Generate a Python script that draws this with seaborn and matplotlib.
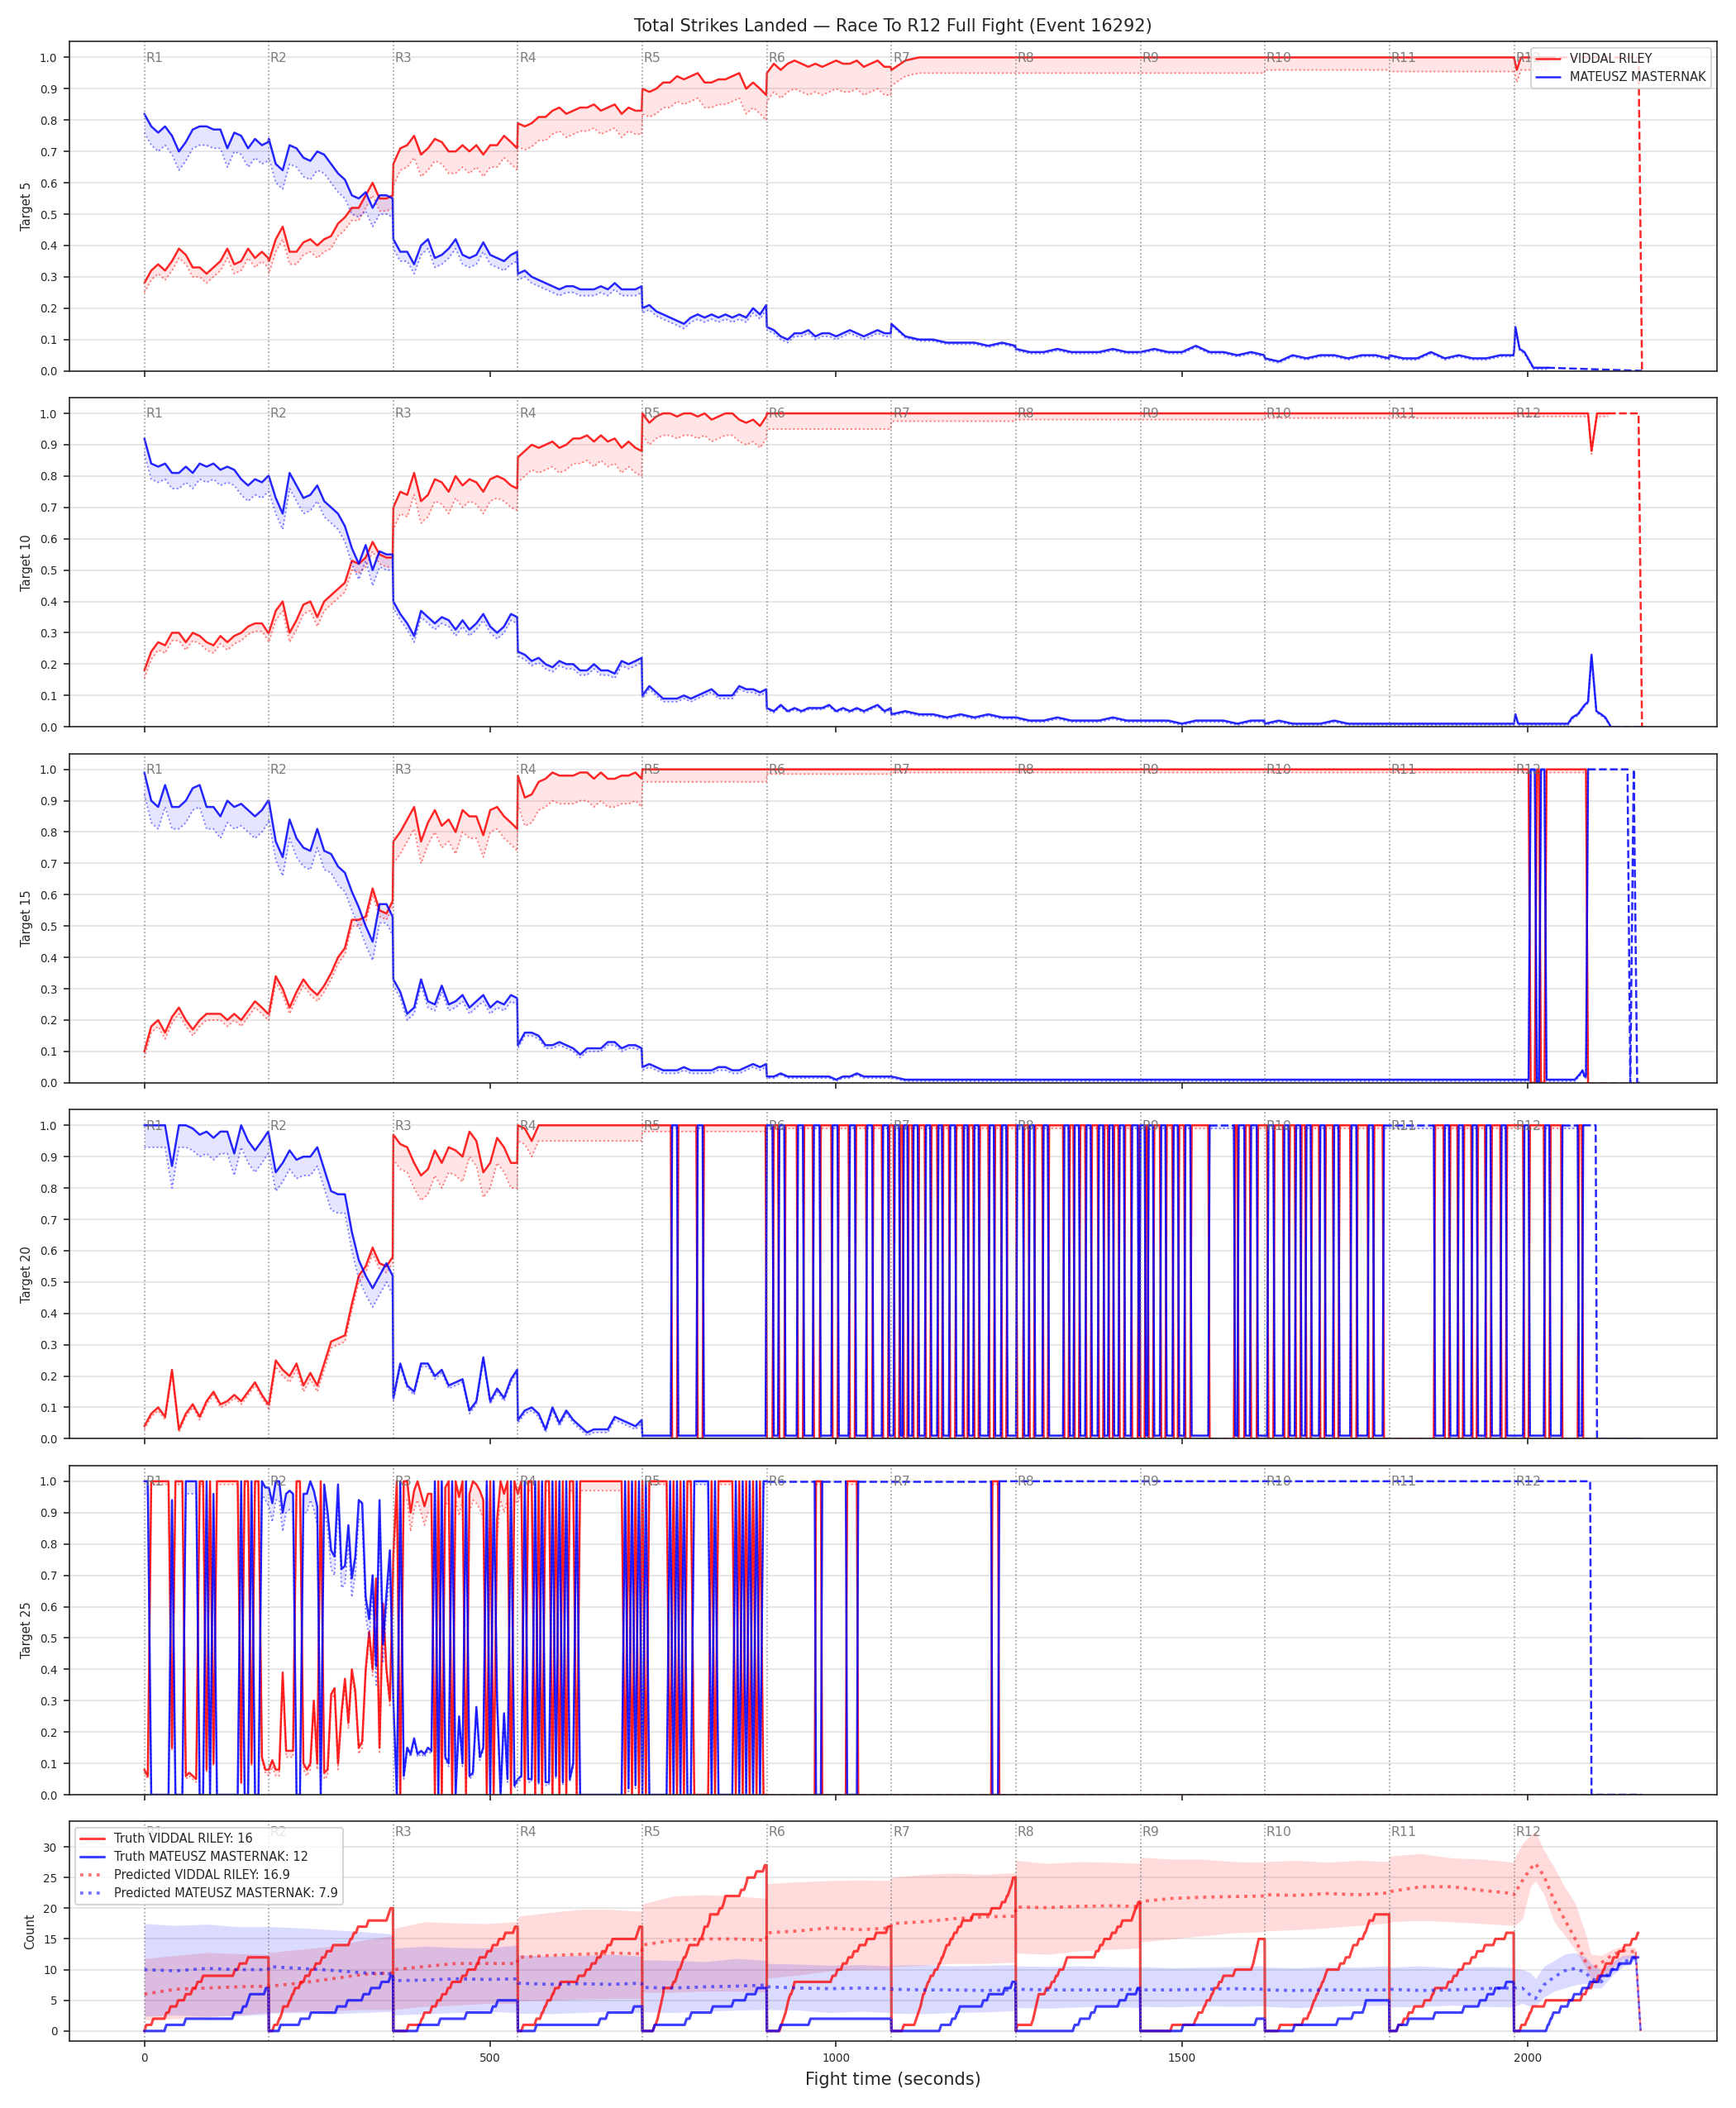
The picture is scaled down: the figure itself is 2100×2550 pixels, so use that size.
import numpy as np
import matplotlib
matplotlib.use("Agg")
import matplotlib.pyplot as plt
import seaborn as sns
from matplotlib.lines import Line2D

sns.set_style("ticks")
plt.rcParams["font.family"] = ["DejaVu Sans"]

RED = "#ff0000"
BLUE = "#0000ff"
FIGHTER_RED = "VIDDAL RILEY"
FIGHTER_BLUE = "MATEUSZ MASTERNAK"
TITLE = "Total Strikes Landed \u2014 Race To R12 Full Fight (Event 16292)"
ROUND_LEN = 180
N_ROUNDS = 12
FIGHT_END = 2165

# sample offsets inside a round (seconds)
EARLY_OFFSETS = [0, 10, 20, 30, 40, 50, 60, 70, 80, 90, 100, 110, 120, 130, 140, 150, 160, 170, 179]
LATE_OFFSETS = [0, 20, 40, 60, 80, 100, 120, 140, 160, 179]

# ---------------- Target 5 (percent) ----------------
T5_RED = [
    28, 32, 34, 32, 35, 39, 37, 33, 33, 31, 33, 35, 39, 34, 35, 39, 36, 38, 36,
    35, 42, 46, 38, 38, 41, 42, 40, 42, 43, 47, 49, 52, 52, 56, 60, 55, 55, 56,
    66, 71, 72, 75, 69, 71, 74, 73, 70, 70, 72, 70, 72, 69, 72, 72, 75, 73, 71,
    79, 78, 79, 81, 81, 83, 84, 82, 83, 84, 84, 85, 83, 84, 85, 82, 84, 83, 83,
    90, 89, 90, 92, 92, 94, 93, 94, 95, 92, 92, 93, 93, 94, 95, 90, 92, 90, 88,
    95, 98, 96, 98, 99, 98, 97, 98, 97, 98, 99, 98, 98, 99, 97, 98, 99, 97, 97,
    96, 99, 100, 100, 100, 100, 100, 100, 100, 100,
    100, 100, 100, 100, 100, 100, 100, 100, 100, 100,
    100, 100, 100, 100, 100, 100, 100, 100, 100, 100,
    100, 100, 100, 100, 100, 100, 100, 100, 100, 100,
    100, 100, 100, 100, 100, 100, 100, 100, 100, 100,
]
T5_BLUE = [
    82, 78, 76, 78, 75, 70, 73, 77, 78, 78, 77, 77, 71, 76, 75, 71, 74, 72, 73,
    74, 66, 64, 72, 71, 68, 67, 70, 69, 66, 63, 61, 56, 55, 57, 52, 56, 56, 55,
    42, 38, 38, 34, 40, 42, 36, 37, 39, 42, 37, 36, 37, 41, 37, 36, 35, 37, 38,
    31, 32, 30, 29, 28, 27, 26, 27, 27, 26, 26, 26, 27, 26, 28, 26, 26, 26, 27,
    20, 21, 19, 18, 17, 16, 15, 17, 18, 17, 18, 17, 18, 17, 18, 17, 20, 18, 21,
    14, 13, 11, 10, 12, 12, 13, 11, 12, 12, 11, 12, 13, 12, 11, 12, 13, 12, 12,
    15, 11, 10, 10, 9, 9, 9, 8, 9, 8,
    7, 6, 6, 7, 6, 6, 6, 7, 6, 6,
    6, 7, 6, 6, 8, 6, 6, 5, 6, 5,
    4, 3, 5, 4, 5, 5, 4, 5, 5, 4,
    5, 4, 4, 6, 4, 5, 4, 4, 5, 5,
]
T5_RED_END_T = [1980, 1984, 1990, 2000, 2030, 2160, 2165]
T5_RED_END = [100, 96, 100, 100, 100, 100, 0]
T5_BLUE_END_T = [1980, 1982, 1988, 1995, 2008, 2028, 2165]
T5_BLUE_END = [6, 14, 7, 6, 1, 1, 0]
T5_RED_DASH = [(2030, 2170)]
T5_BLUE_DASH = [(2028, 2170)]
T5_RED_GAP = [3, 4, 7, 7.5, 8, 9, 5, 5, 5, 4, 4.5, 4]
T5_BLUE_GAP = [6, 6, 3, 2, 1.5, 1, 0.5, 0.5, 0.5, 0.5, 0.5, 0.5]

# ---------------- Target 10 ----------------
T10_RED = [
    18, 24, 27, 26, 30, 30, 27, 30, 29, 27, 26, 29, 27, 29, 30, 32, 33, 33, 30,
    30, 37, 40, 30, 34, 39, 40, 35, 40, 42, 44, 46, 53, 52, 54, 59, 55, 54, 54,
    70, 75, 74, 81, 72, 74, 79, 78, 75, 80, 77, 79, 78, 75, 79, 80, 79, 77, 76,
    86, 88, 90, 89, 90, 91, 89, 90, 92, 92, 93, 91, 93, 91, 92, 89, 91, 89, 88,
    100, 97, 99, 100, 100, 99, 100, 100, 99, 100, 98, 99, 100, 100, 98, 97, 98, 96, 99,
    100, 100, 100, 100, 100, 100, 100, 100, 100, 100, 100, 100, 100, 100, 100, 100, 100, 100, 100,
    100, 100, 100, 100, 100, 100, 100, 100, 100, 100,
    100, 100, 100, 100, 100, 100, 100, 100, 100, 100,
    100, 100, 100, 100, 100, 100, 100, 100, 100, 100,
    100, 100, 100, 100, 100, 100, 100, 100, 100, 100,
    100, 100, 100, 100, 100, 100, 100, 100, 100, 100,
]
T10_BLUE = [
    92, 84, 83, 84, 81, 81, 83, 81, 84, 83, 84, 82, 83, 82, 79, 77, 79, 78, 80,
    80, 73, 68, 81, 77, 73, 74, 77, 72, 70, 68, 64, 57, 52, 58, 50, 56, 55, 55,
    40, 36, 33, 29, 37, 35, 33, 35, 34, 31, 34, 31, 33, 36, 32, 30, 32, 36, 35,
    24, 23, 21, 22, 20, 19, 21, 20, 20, 18, 18, 20, 18, 18, 17, 21, 20, 21, 22,
    10, 13, 11, 9, 9, 9, 10, 9, 10, 11, 12, 10, 10, 10, 13, 12, 12, 11, 12,
    6, 5, 7, 5, 6, 5, 6, 6, 6, 7, 5, 6, 5, 6, 5, 6, 7, 5, 6,
    4, 5, 4, 4, 3, 4, 3, 4, 3, 3,
    3, 2, 2, 3, 2, 2, 2, 3, 2, 2,
    2, 2, 2, 1, 2, 2, 2, 1, 2, 2,
    1, 2, 1, 1, 1, 2, 1, 1, 1, 1,
    1, 1, 1, 1, 1, 1, 1, 1, 1, 1,
]
T10_RED_END_T = [1980, 2087, 2092, 2100, 2116, 2160, 2165]
T10_RED_END = [100, 100, 88, 100, 100, 100, 0]
T10_BLUE_END_T = [1980, 1982, 1986, 2058, 2064, 2072, 2082, 2087, 2092, 2099, 2106, 2112, 2120, 2165]
T10_BLUE_END = [1, 4, 1, 1, 3, 4, 7, 8, 23, 5, 4, 3, 0, 0]
T10_RED_DASH = [(2116, 2170)]
T10_BLUE_DASH = [(2120, 2170)]
T10_RED_GAP = [2.5, 3, 7, 8, 7, 5, 2.5, 2, 2, 1.5, 1.5, 1]
T10_BLUE_GAP = [5, 5, 2, 1.5, 1, 0.5, 0.5, 0.5, 0.5, 0.5, 0.5, 0.5]

# ---------------- Target 15 ----------------
T15_RED = [
    10, 18, 20, 16, 21, 24, 20, 17, 20, 22, 22, 22, 20, 22, 20, 23, 26, 24, 22,
    22, 34, 30, 24, 29, 33, 30, 28, 31, 35, 40, 43, 52, 52, 53, 62, 55, 54, 58,
    77, 80, 84, 88, 77, 83, 87, 82, 84, 80, 87, 85, 85, 79, 87, 88, 85, 83, 81,
    98, 91, 92, 96, 97, 99, 98, 98, 98, 99, 99, 97, 99, 97, 97, 98, 98, 99, 97,
    100, 100, 100, 100, 100, 100, 100, 100, 100, 100, 100, 100, 100, 100, 100, 100, 100, 100, 100,
    100, 100, 100, 100, 100, 100, 100, 100, 100, 100, 100, 100, 100, 100, 100, 100, 100, 100, 100,
    100, 100, 100, 100, 100, 100, 100, 100, 100, 100,
    100, 100, 100, 100, 100, 100, 100, 100, 100, 100,
    100, 100, 100, 100, 100, 100, 100, 100, 100, 100,
    100, 100, 100, 100, 100, 100, 100, 100, 100, 100,
    100, 100, 100, 100, 100, 100, 100, 100, 100, 100,
]
T15_BLUE = [
    99, 90, 88, 95, 88, 88, 90, 94, 95, 88, 88, 85, 90, 88, 89, 87, 85, 87, 90,
    90, 77, 72, 84, 78, 75, 74, 81, 74, 73, 69, 67, 61, 56, 50, 45, 57, 57, 53,
    33, 29, 22, 24, 33, 26, 25, 31, 25, 26, 28, 24, 26, 28, 24, 26, 25, 28, 27,
    12, 16, 16, 15, 12, 12, 13, 12, 11, 9, 11, 11, 11, 13, 13, 11, 12, 12, 11,
    5, 6, 5, 4, 4, 4, 5, 4, 4, 4, 4, 5, 5, 4, 4, 5, 6, 5, 6,
    2, 2, 3, 2, 2, 2, 2, 2, 2, 2, 1, 2, 2, 3, 2, 2, 2, 2, 2,
    2, 1, 1, 1, 1, 1, 1, 1, 1, 1,
    1, 1, 1, 1, 1, 1, 1, 1, 1, 1,
    1, 1, 1, 1, 1, 1, 1, 1, 1, 1,
    1, 1, 1, 1, 1, 1, 1, 1, 1, 1,
    1, 1, 1, 1, 1, 1, 1, 1, 1, 1,
]
T15_RED_END_T = [1980, 2001, 2004, 2010, 2013, 2016, 2019, 2024, 2027, 2084, 2087, 2165]
T15_RED_END = [100, 100, 0, 0, 100, 100, 0, 0, 100, 100, 0, 0]
T15_BLUE_END_T = [1980, 2001, 2004, 2010, 2013, 2016, 2019, 2024, 2027, 2068, 2076, 2079,
                  2082, 2084, 2087, 2144, 2148, 2153, 2158, 2165]
T15_BLUE_END = [1, 1, 100, 100, 0, 0, 100, 100, 1, 1, 3, 4, 2, 2, 100, 100, 0, 100, 0, 0]
T15_RED_DASH = [(2087, 2170)]
T15_BLUE_DASH = [(2087, 2170)]
T15_RED_GAP = [2, 2, 7, 9, 4, 1.5, 1, 1, 1, 1, 1, 1]
T15_BLUE_GAP = [7, 6, 2, 1, 1, 0.5, 0.5, 0.5, 0.5, 0.5, 0.5, 0.5]

# ---------------- Target 20 ----------------
T20_RED = [
    4, 8, 10, 7, 22, 3, 8, 11, 7, 12, 15, 11, 12, 14, 12, 15, 18, 14, 11,
    11, 25, 22, 20, 24, 17, 21, 17, 24, 31, 32, 33, 43, 52, 55, 61, 56, 55, 58,
    97, 94, 93, 88, 84, 86, 92, 88, 93, 92, 90, 98, 95, 85, 88, 96, 93, 88, 88,
    100, 99, 95, 100, 100, 100, 100, 100, 100, 100, 100, 100, 100, 100, 100, 100, 100, 100, 100,
]
T20_BLUE = [
    100, 100, 100, 100, 87, 100, 100, 99, 97, 98, 96, 98, 98, 91, 100, 95, 92, 95, 98,
    97, 85, 88, 92, 89, 90, 90, 93, 86, 79, 78, 78, 66, 57, 52, 48, 52, 56, 52,
    13, 24, 17, 15, 24, 24, 20, 22, 17, 18, 19, 9, 12, 26, 12, 16, 13, 19, 22,
    6, 9, 10, 8, 3, 10, 5, 9, 6, 4, 2, 3, 3, 3, 7, 6, 5, 4, 6,
]
# from R5 on the model flips between the fighters: spans where Masternak is at 1
T20_BLUE_HIGH = [
    (763, 770), (800, 807),
    (900, 908), (918, 925), (945, 952), (968, 976), (995, 1002), (1020, 1027), (1045, 1052), (1068, 1075),
    (1085, 1091), (1098, 1103), (1112, 1118), (1130, 1136), (1148, 1153), (1165, 1172), (1185, 1190),
    (1200, 1206), (1222, 1228), (1240, 1246),
    (1262, 1270), (1280, 1286), (1300, 1306), (1330, 1336), (1345, 1351), (1362, 1368), (1380, 1386),
    (1395, 1400), (1410, 1416), (1428, 1436),
    (1440, 1446), (1452, 1458), (1470, 1476), (1488, 1494), (1505, 1512), (1540, 1575), (1582, 1590),
    (1600, 1608),
    (1625, 1632), (1648, 1654), (1665, 1671), (1680, 1686), (1700, 1706), (1720, 1726), (1745, 1752),
    (1770, 1776), (1792, 1864),
    (1880, 1886), (1900, 1906), (1920, 1926), (1940, 1946), (1962, 1968),
    (1995, 2001), (2025, 2031), (2050, 2072),
]
T20_FLIP_END = 2078
T20_BLUE_TAIL_T = [2080, 2098, 2100, 2165]
T20_BLUE_TAIL = [100, 100, 0, 0]
T20_RED_TAIL_T = [2080, 2165]
T20_RED_TAIL = [0, 0]
T20_DASH = [(1540, 1575), (1792, 1864), (2050, 2072), (2080, 2170)]
T20_RED_GAP = [1, 2, 8, 5, 2, 1, 1, 1, 1, 1, 1, 1]
T20_BLUE_GAP = [7, 6, 1, 1, 1, 1, 1, 1, 1, 1, 1, 1]

# ---------------- Target 25 (5 s samples, R1-R5) ----------------
T25_RED = [
    8, 6, 100, 100, 100, 100, 100, 100, 15, 100, 100, 100, 6, 7, 6, 5, 100, 100,
    8, 100, 10, 100, 100, 100, 100, 100, 100, 100, 4, 100, 100, 10, 100, 100, 12, 8,
    8, 11, 8, 8, 39, 14, 14, 14, 100, 100, 10, 8, 10, 30, 10, 100, 7, 8,
    32, 34, 10, 26, 37, 23, 40, 33, 15, 17, 40, 52, 40, 69, 15, 61, 40, 30,
    77, 100, 0, 100, 100, 90, 97, 100, 96, 92, 96, 96, 0, 100, 0, 98, 100, 0,
    100, 95, 100, 0, 96, 100, 99, 97, 94, 0, 100, 0, 88, 100, 96, 100, 0, 100,
    96, 100, 0, 100, 100, 0, 100, 0, 100, 100, 0, 100, 0, 100, 0, 100, 100, 0,
    100, 100, 100, 100, 100, 100, 100, 100, 100, 100, 100, 100, 100, 0, 100, 0, 100, 0,
    100, 0, 100, 100, 100, 100, 100, 100, 0, 100, 0, 100, 0, 100, 100, 0, 0, 0,
    0, 0, 100, 0, 100, 100, 100, 100, 100, 0, 100, 0, 100, 0, 100, 0, 100, 0,
]
T25_BLUE = [
    100, 100, 0, 0, 0, 0, 0, 0, 94, 0, 0, 0, 100, 100, 100, 100, 0, 0,
    100, 0, 96, 0, 0, 0, 0, 0, 0, 0, 100, 0, 0, 100, 0, 0, 100, 98,
    98, 93, 100, 100, 90, 96, 97, 96, 0, 0, 96, 96, 100, 97, 92, 0, 99, 90,
    78, 76, 99, 72, 73, 86, 69, 76, 94, 93, 63, 56, 70, 41, 94, 48, 64, 78,
    30, 0, 100, 6, 15, 13, 18, 13, 14, 13, 15, 14, 100, 0, 100, 12, 10, 100,
    0, 25, 10, 100, 6, 7, 28, 12, 15, 100, 0, 100, 30, 0, 26, 5, 100, 3,
    5, 6, 100, 5, 5, 100, 4, 100, 4, 4, 100, 6, 100, 4, 100, 5, 10, 100,
    0, 0, 0, 0, 0, 0, 0, 0, 0, 0, 0, 0, 0, 100, 2, 100, 3, 100,
    0, 100, 0, 0, 0, 0, 0, 0, 100, 0, 100, 0, 100, 0, 0, 100, 100, 100,
    100, 100, 0, 100, 0, 0, 0, 0, 0, 100, 0, 100, 0, 100, 0, 100, 0, 100,
]
T25_STEP = 5
T25_LATE_START = 900
T25_RED_HIGH = [(971, 978), (1016, 1030), (1226, 1234)]
T25_BLUE_FLIP_END = 2090
T25_BLUE_TAIL_T = [2092, 2165]
T25_BLUE_TAIL = [0, 0]
T25_DASH = [(900, 970), (979, 1015), (1031, 1225), (1235, 2170)]
T25_RED_GAP = [1, 2, 6, 3, 1, 1, 1, 1, 1, 1, 1, 1]
T25_BLUE_GAP = [4, 6, 1, 1, 1, 1, 1, 1, 1, 1, 1, 1]

# ---------------- Count panel ----------------
RED_STRIKES = [
    [3, 13, 32, 38, 49, 60, 70, 77, 85, 131, 138, 150],
    [8, 15, 19, 21, 30, 34, 38, 46, 53, 61, 68, 77, 84, 93, 118, 123, 129, 144, 173, 176],
    [22, 41, 45, 56, 64, 71, 79, 85, 100, 108, 121, 125, 136, 144, 153, 162, 176],
    [8, 27, 35, 39, 43, 50, 54, 62, 88, 99, 107, 115, 122, 130, 137, 173, 176],
    [18, 22, 24, 26, 28, 30, 31, 45, 50, 52, 57, 60, 65, 68, 83, 88, 90, 97, 98, 112, 118, 120,
     143, 150, 152, 165, 177],
    [21, 24, 27, 29, 31, 34, 38, 40, 95, 102, 110, 118, 126, 134, 145, 158, 175],
    [18, 36, 39, 42, 44, 46, 50, 53, 57, 63, 69, 73, 77, 80, 86, 91, 97, 103, 118, 145, 160, 167,
     171, 174, 176],
    [2, 25, 27, 29, 31, 33, 44, 52, 58, 63, 71, 74, 116, 122, 128, 139, 147, 154, 170, 173, 177],
    [46, 80, 84, 92, 96, 103, 107, 114, 120, 137, 163, 165, 167, 169, 171],
    [22, 56, 64, 68, 71, 75, 79, 83, 87, 90, 109, 117, 125, 128, 136, 144, 148, 151, 159],
    [13, 21, 28, 36, 51, 62, 66, 85, 93, 100, 108, 119, 127, 138, 153, 169],
    [11, 19, 23, 27, 46, 99, 106, 114, 122, 129, 133, 144, 152, 160, 171, 179],
]
BLUE_STRIKES = [
    [32, 60, 130, 143, 150, 153, 176],
    [17, 46, 61, 99, 114, 137, 148, 163, 176],
    [37, 68, 106, 144, 151],
    [27, 119, 130, 168],
    [18, 64, 71, 102, 132, 151, 166],
    [20, 63],
    [72, 88, 95, 99, 133, 141, 164, 175],
    [85, 93, 109, 116, 150, 161, 176],
    [62, 168],
    [43, 106, 128, 144, 146],
    [13, 28, 66, 108, 131, 142, 153, 169],
    [49, 53, 57, 68, 80, 87, 99, 110, 125, 141, 152, 171],
]
PRED_OFFSETS = [0, 45, 90, 135, 179]
PRED_R12_T = [1980, 1992, 2004, 2011, 2023, 2038, 2053, 2068, 2084, 2091, 2106, 2122, 2137, 2156]
PRED_END_T = 2163
RED_MEAN = [
    6.0, 6.8, 7.0, 7.2, 7.3,
    7.3, 7.8, 8.5, 9.2, 9.5,
    10.0, 10.5, 11.0, 11.0, 11.0,
    12.0, 12.3, 12.5, 12.7, 12.6,
    14.0, 14.8, 15.0, 15.0, 14.8,
    16.0, 16.3, 16.8, 16.5, 16.8,
    17.5, 17.8, 18.3, 18.6, 18.7,
    20.2, 20.1, 20.3, 20.4, 20.3,
    21.1, 21.6, 21.8, 21.9, 22.0,
    22.2, 22.1, 22.4, 22.2, 22.5,
    22.7, 23.5, 23.5, 22.9, 22.4,
    22.2, 24.5, 26.5, 27.3, 25.3, 21.3, 18.2, 15.1, 11.1, 10.0, 11.1, 12.4, 13.1, 12.9,
]
RED_UP = [
    11.8, 12.3, 12.8, 12.6, 12.5,
    12.8, 13.3, 13.8, 14.8, 15.5,
    16.7, 17.8, 17.6, 17.5, 17.8,
    18.7, 19.3, 19.8, 19.8, 19.5,
    20.7, 22.0, 22.2, 22.0, 21.6,
    24.0, 24.3, 24.5, 24.6, 24.5,
    25.0, 25.5, 25.7, 25.5, 25.8,
    27.8, 27.3, 27.6, 27.5, 27.3,
    28.3, 28.0, 28.0, 27.6, 27.5,
    27.6, 27.8, 27.5, 27.8, 27.6,
    28.5, 28.9, 28.2, 28.0, 27.5,
    28.0, 30.5, 32.0, 32.5, 29.5, 26.7, 23.5, 20.9, 15.6, 12.5, 12.3, 13.3, 13.8, 13.6,
]
RED_LOW = [
    1.8, 2.0, 2.3, 2.6, 3.0,
    3.0, 3.2, 3.3, 3.5, 3.5,
    3.5, 4.0, 4.2, 4.5, 4.5,
    4.9, 5.0, 5.2, 5.3, 5.3,
    6.3, 6.3, 6.5, 6.5, 6.3,
    8.6, 9.1, 9.8, 10.0, 10.0,
    10.5, 10.7, 11.0, 11.0, 11.2,
    12.7, 12.5, 13.0, 13.3, 13.5,
    14.5, 15.0, 15.5, 16.0, 16.2,
    16.3, 16.5, 16.8, 17.2, 17.6,
    17.8, 18.0, 17.8, 17.5, 17.2,
    17.1, 18.2, 23.6, 24.4, 22.3, 17.8, 15.6, 13.3, 10.2, 8.4, 8.4, 10.2, 11.8, 12.0,
]
BLUE_MEAN = [
    10.0, 9.8, 10.2, 10.0, 10.0,
    10.5, 10.2, 9.9, 9.5, 9.3,
    8.2, 8.3, 8.5, 8.4, 8.5,
    7.8, 7.6, 7.7, 7.6, 7.8,
    7.1, 7.0, 7.2, 7.3, 7.5,
    7.2, 7.0, 6.9, 7.0, 6.9,
    6.8, 6.7, 6.7, 6.6, 6.7,
    6.8, 6.7, 6.7, 6.7, 6.8,
    6.7, 6.7, 6.8, 6.9, 6.8,
    6.7, 6.6, 6.7, 6.7, 6.7,
    6.8, 6.6, 6.7, 6.9, 7.0,
    7.0, 7.0, 5.8, 5.3, 7.5, 8.8, 9.8, 10.2, 9.5, 8.5, 8.0, 10.0, 11.2, 12.0,
]
BLUE_UP = [
    17.5, 17.2, 17.4, 17.0, 17.0,
    17.0, 16.8, 16.5, 16.2, 15.8,
    13.5, 13.8, 13.6, 13.5, 14.0,
    12.4, 12.2, 12.3, 12.5, 12.2,
    11.6, 11.5, 11.3, 11.8, 11.5,
    11.0, 10.9, 10.7, 10.8, 10.6,
    10.7, 10.8, 10.6, 10.7, 10.8,
    10.6, 10.5, 10.6, 10.5, 10.4,
    10.5, 10.3, 10.4, 10.5, 10.6,
    10.4, 10.3, 10.5, 10.4, 10.6,
    10.4, 10.6, 10.3, 10.5, 10.4,
    10.2, 10.0, 9.5, 8.5, 10.5, 11.5, 12.5, 12.8, 12.0, 11.0, 10.0, 11.3, 12.3, 12.5,
]
BLUE_LOW = [
    2.4, 2.6, 2.4, 2.5, 2.7,
    2.9, 3.0, 2.8, 3.0, 3.2,
    2.6, 2.8, 3.0, 3.2, 3.0,
    2.9, 2.8, 3.0, 3.2, 3.0,
    3.1, 3.0, 3.2, 3.4, 3.5,
    3.5, 3.4, 3.0, 3.2, 3.0,
    2.9, 2.8, 3.0, 3.1, 3.3,
    3.8, 3.7, 3.9, 4.0, 3.8,
    4.0, 3.9, 4.1, 4.0, 4.1,
    4.0, 3.8, 4.0, 4.1, 4.2,
    3.9, 4.0, 4.2, 4.0, 3.9,
    4.0, 4.5, 4.0, 4.0, 5.5, 6.5, 7.0, 7.5, 7.8, 7.0, 7.0, 9.0, 10.5, 11.5,
]
PRED_RED_FINAL = 16.9
PRED_BLUE_FINAL = 7.9


def round_grid(n_early, n_late):
    ts = []
    for r in range(n_early + n_late):
        offs = EARLY_OFFSETS if r < n_early else LATE_OFFSETS
        ts += [r * ROUND_LEN + o for o in offs]
    return ts


def flip_series(start, end, spans, base, flipped):
    # step between two levels, 2 s ramps like the 5 s sampling of the source
    t, y = [start], [base]
    for a, b in spans:
        t += [a - 2, a, b, b + 2]
        y += [base, flipped, flipped, base]
    t.append(end)
    y.append(base)
    return t, y


def in_spans(x, spans):
    return any(a < x < b for a, b in spans)


def plot_track(ax, t, y, spans, color, lw=1.2, alpha=0.85):
    t = np.asarray(t, float)
    y = np.asarray(y, float)
    mids = (t[:-1] + t[1:]) / 2
    dashed = np.array([in_spans(m, spans) for m in mids])
    start = 0
    for i in range(1, len(mids) + 1):
        if i == len(mids) or dashed[i] != dashed[start]:
            ax.plot(t[start:i + 1], y[start:i + 1], color=color, lw=lw, alpha=alpha,
                    ls="--" if dashed[start] else "-")
            start = i


def lower_bound(t, y, gaps, spans):
    out = []
    for ti, yi in zip(t, y):
        if in_spans(ti, spans):
            out.append(np.nan)
        else:
            g = gaps[min(int(ti // ROUND_LEN), N_ROUNDS - 1)] / 100
            out.append(max(yi - g, 0))
    return np.array(out)


def truth_track(strikes):
    t, y = [], []
    for r, hits in enumerate(strikes):
        start = r * ROUND_LEN
        t.append(start)
        y.append(0)
        last, c = start, 0
        for s in hits:
            rise = max(last, start + s - 3)
            t += [rise, start + s]
            y += [c, c + 1]
            c += 1
            last = start + s
        t.append(start + 179.5)
        y.append(c)
    return t, y


# ---------------- assemble tracks ----------------
GRID_T = round_grid(6, 5)
T20_GRID_T = round_grid(4, 0)
T25_GRID_T = list(np.arange(0, T25_LATE_START, T25_STEP))

t20_blue_t, t20_blue_y = flip_series(720, T20_FLIP_END, T20_BLUE_HIGH, 1, 100)
t20_red_t, t20_red_y = flip_series(720, T20_FLIP_END, T20_BLUE_HIGH, 100, 0)
t25_red_t, t25_red_y = flip_series(T25_LATE_START, FIGHT_END, T25_RED_HIGH, 0, 100)
t25_blue_t, t25_blue_y = flip_series(T25_LATE_START, T25_BLUE_FLIP_END, T25_RED_HIGH, 100, 0)

panels = [
    ("Target 5",
     (GRID_T + T5_RED_END_T, T5_RED + T5_RED_END, T5_RED_DASH, T5_RED_GAP),
     (GRID_T + T5_BLUE_END_T, T5_BLUE + T5_BLUE_END, T5_BLUE_DASH, T5_BLUE_GAP)),
    ("Target 10",
     (GRID_T + T10_RED_END_T, T10_RED + T10_RED_END, T10_RED_DASH, T10_RED_GAP),
     (GRID_T + T10_BLUE_END_T, T10_BLUE + T10_BLUE_END, T10_BLUE_DASH, T10_BLUE_GAP)),
    ("Target 15",
     (GRID_T + T15_RED_END_T, T15_RED + T15_RED_END, T15_RED_DASH, T15_RED_GAP),
     (GRID_T + T15_BLUE_END_T, T15_BLUE + T15_BLUE_END, T15_BLUE_DASH, T15_BLUE_GAP)),
    ("Target 20",
     (T20_GRID_T + t20_red_t + T20_RED_TAIL_T, T20_RED + t20_red_y + T20_RED_TAIL, T20_DASH, T20_RED_GAP),
     (T20_GRID_T + t20_blue_t + T20_BLUE_TAIL_T, T20_BLUE + t20_blue_y + T20_BLUE_TAIL, T20_DASH,
      T20_BLUE_GAP)),
    ("Target 25",
     (T25_GRID_T + t25_red_t, T25_RED + t25_red_y, T25_DASH, T25_RED_GAP),
     (T25_GRID_T + t25_blue_t + T25_BLUE_TAIL_T, T25_BLUE + t25_blue_y + T25_BLUE_TAIL, T25_DASH,
      T25_BLUE_GAP)),
]

# ---------------- figure ----------------
fig = plt.figure(figsize=(14, 17), dpi=150)
gs = fig.add_gridspec(6, 1, height_ratios=[1.5, 1.5, 1.5, 1.5, 1.5, 1], left=0.04, right=0.989,
                      top=0.9802, bottom=0.0318, hspace=0.0864)
axes = [fig.add_subplot(gs[0])]
for i in range(1, 6):
    axes.append(fig.add_subplot(gs[i], sharex=axes[0]))

for ax, (label, red, blue) in zip(axes[:5], panels):
    for (t, vals, spans, gaps), color in [(red, RED), (blue, BLUE)]:
        y = np.asarray(vals, float) / 100
        low = lower_bound(t, y, gaps, spans)
        ax.fill_between(t, y, low, color=color, alpha=0.1, lw=0)
        ax.plot(t, low, color=color, ls=":", lw=0.9, alpha=0.5)
        plot_track(ax, t, y, spans, color)
    ax.set_ylim(0, 1.05)
    ax.set_yticks(np.arange(0, 1.01, 0.1))
    ax.set_ylabel(label, fontsize=7)

# count panel
axc = axes[5]
pred_t = [r * ROUND_LEN + o for r in range(11) for o in PRED_OFFSETS] + PRED_R12_T
axc.fill_between(pred_t, RED_LOW, RED_UP, color=RED, alpha=0.14, lw=0)
axc.fill_between(pred_t, BLUE_LOW, BLUE_UP, color=BLUE, alpha=0.14, lw=0)
for strikes, color in [(RED_STRIKES, RED), (BLUE_STRIKES, BLUE)]:
    tt, yy = truth_track(strikes)
    axc.plot(tt, yy, color=color, lw=1.5, alpha=0.75)
for mean, color in [(RED_MEAN, RED), (BLUE_MEAN, BLUE)]:
    axc.plot(pred_t, mean, color=color, ls=":", lw=1.8, alpha=0.55)
    axc.plot([pred_t[-1], PRED_END_T], [mean[-1], 0], color=color, ls="--", lw=1.2, alpha=0.55)
axc.set_ylabel("Count", fontsize=7)
axc.set_xlabel("Fight time (seconds)", fontsize=10)

count_handles = [
    Line2D([], [], color=RED, lw=1.5, alpha=0.75, label=f"Truth {FIGHTER_RED}: {len(RED_STRIKES[-1])}"),
    Line2D([], [], color=BLUE, lw=1.5, alpha=0.75, label=f"Truth {FIGHTER_BLUE}: {len(BLUE_STRIKES[-1])}"),
    Line2D([], [], color=RED, ls=":", lw=1.8, alpha=0.55, label=f"Predicted {FIGHTER_RED}: {PRED_RED_FINAL}"),
    Line2D([], [], color=BLUE, ls=":", lw=1.8, alpha=0.55, label=f"Predicted {FIGHTER_BLUE}: {PRED_BLUE_FINAL}"),
]
axc.legend(handles=count_handles, loc="upper left", fontsize=7)

top_handles = [
    Line2D([], [], color=RED, lw=1.2, alpha=0.85, label=FIGHTER_RED),
    Line2D([], [], color=BLUE, lw=1.2, alpha=0.85, label=FIGHTER_BLUE),
]
axes[0].legend(handles=top_handles, loc="upper right", fontsize=7)
axes[0].set_title(TITLE, fontsize=10)

for ax in axes:
    ax.grid(axis="y", color="#e3e3e3", lw=0.8)
    ax.set_axisbelow(True)
    ax.tick_params(labelsize=6.5)
    ytop = ax.get_ylim()[1]
    for r in range(N_ROUNDS):
        x = r * ROUND_LEN
        ax.axvline(x, color="gray", ls=":", lw=0.8, alpha=0.8)
        ax.text(x + 2, ytop * 0.95, f"R{r + 1}", fontsize=7.5, color="dimgray", alpha=0.85,
                ha="left", va="center")
    if ax is not axc:
        plt.setp(ax.get_xticklabels(), visible=False)

fig.savefig("out.png", dpi=150)
